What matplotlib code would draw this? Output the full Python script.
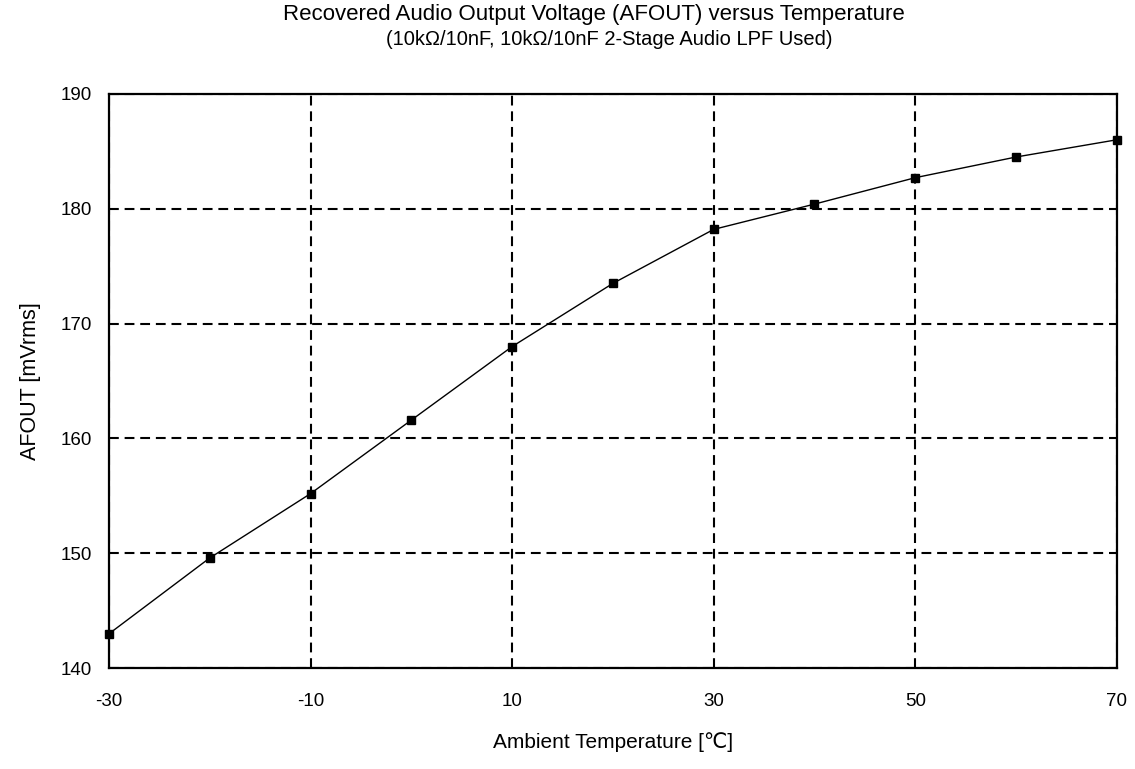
import numpy as np
import matplotlib.pyplot as plt

plt.rcParams['font.family'] = ['Liberation Sans', 'DejaVu Sans']
plt.rcParams['axes.unicode_minus'] = False

temp = [-30, -20, -10, 0, 10, 20, 30, 40, 50, 60, 70]
afout = [143.0, 149.6, 155.2, 161.6, 168.0, 173.5, 178.2, 180.4, 182.7, 184.5, 186.0]

x_ticks = [-30, -10, 10, 30, 50, 70]
y_ticks = [140, 150, 160, 170, 180, 190]

fig = plt.figure(figsize=(11.35, 7.69), dpi=100)
ax = fig.add_axes([0.096, 0.131, 0.888, 0.747])

ax.plot(temp, afout, color='black', lw=1.0, marker='s', markersize=5.5, clip_on=False, zorder=3)

ax.set_xlim(-30, 70)
ax.set_ylim(140, 190)
ax.set_xticks(x_ticks)
ax.set_yticks(y_ticks)
ax.tick_params(length=0, labelsize=13.5)
ax.tick_params(axis='x', pad=18)
ax.tick_params(axis='y', pad=12)
ax.grid(True, color='black', linestyle=(0, (4.7, 2.8)), lw=1.5)
for s in ax.spines.values():
    s.set_linewidth(1.6)

ax.set_xlabel('Ambient Temperature [℃]', fontsize=15, labelpad=16)
ax.set_ylabel('AFOUT [mVrms]', fontsize=15.5, labelpad=14)
fig.text(0.523, 0.981, 'Recovered Audio Output Voltage (AFOUT) versus Temperature',
         ha='center', va='center', fontsize=16)
fig.text(0.537, 0.948, '(10kΩ/10nF, 10kΩ/10nF 2-Stage Audio LPF Used)',
         ha='center', va='center', fontsize=14.5)

fig.savefig('out.png')
